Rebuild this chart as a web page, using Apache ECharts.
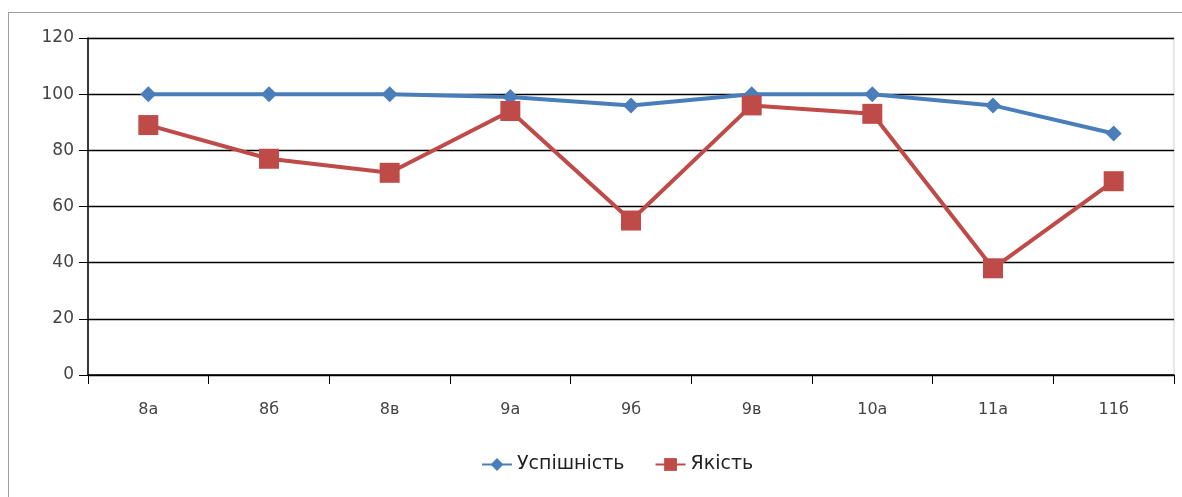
<!DOCTYPE html>
<html>
<head>
<meta charset="utf-8">
<script src="https://cdn.jsdelivr.net/npm/echarts@6/dist/echarts.min.js"></script>
<style>
  html, body { margin: 0; padding: 0; background: #fff; overflow: hidden; }
  #frame { position: absolute; left: 8px; top: 12px; width: 1200px; height: 520px;
           border-top: 1px solid #a0a0a0; border-left: 1px solid #a0a0a0; }
  #main { position: absolute; left: 0; top: 0; width: 1182px; height: 497px; }
</style>
</head>
<body>
<div id="frame"></div>
<div id="main"></div>
<script>
// класи
var categories = ['8а', '8б', '8в', '9а', '9б', '9в', '10а', '11а', '11б'];
var uspishnist = [100, 100, 100, 99, 96, 100, 100, 96, 86];
var yakist = [89, 77, 72, 94, 55, 96, 93, 38, 69];
var seriesNames = ['Успішність', 'Якість'];

var chart = echarts.init(document.getElementById('main'));
var option = {
    animation: false,
    textStyle: { fontFamily: 'DejaVu Sans' },
    grid: {
        left: 88, right: 8, top: 38, bottom: 122,
        show: true, borderColor: '#d0d0d0', borderWidth: 1
    },
    legend: {
        bottom: 18,
        left: 476,
        itemWidth: 30,
        itemHeight: 16,
        itemGap: 30,
        textStyle: { fontSize: 19, color: '#222', fontFamily: 'DejaVu Sans' },
        data: seriesNames
    },
    xAxis: {
        type: 'category',
        data: categories,
        axisLine: { lineStyle: { color: '#000', width: 1.5 } },
        axisTick: { show: true, length: 9, lineStyle: { color: '#000' } },
        axisLabel: { fontSize: 16, color: '#444', margin: 27, fontFamily: 'DejaVu Sans' }
    },
    yAxis: {
        type: 'value',
        min: 0, max: 120, interval: 20,
        axisLine: { show: true, lineStyle: { color: '#000', width: 1.5 } },
        axisTick: { show: true, length: 9, lineStyle: { color: '#000' } },
        axisLabel: { fontSize: 17, color: '#444', margin: 14, fontFamily: 'DejaVu Sans' },
        splitLine: { lineStyle: { color: '#000', width: 1.3 } }
    },
    series: [
        {
            name: seriesNames[0],
            type: 'line',
            data: uspishnist,
            symbol: 'diamond',
            symbolSize: 16,
            color: '#4a7ebb',
            lineStyle: { width: 4, color: '#4a7ebb' },
            itemStyle: { color: '#4a7ebb' }
        },
        {
            name: seriesNames[1],
            type: 'line',
            data: yakist,
            symbol: 'rect',
            symbolSize: 20,
            color: '#be4b48',
            lineStyle: { width: 4, color: '#be4b48' },
            itemStyle: { color: '#be4b48' }
        }
    ]
};
chart.setOption(option);
</script>
</body>
</html>
